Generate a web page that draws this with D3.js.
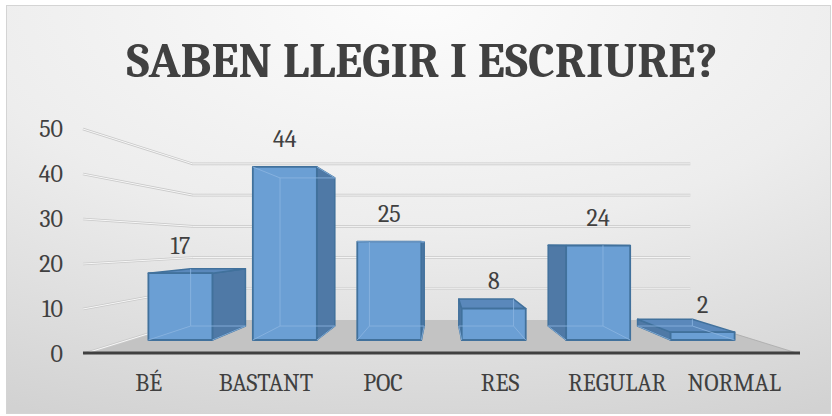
<!DOCTYPE html>
<html><head><meta charset="utf-8">
<script src="https://cdn.jsdelivr.net/npm/d3@7"></script>
<style>html,body{margin:0;padding:0;background:#fff;}svg{display:block;}</style>
</head><body>
<svg id="c" width="832" height="416"></svg>
<script>
const title = "SABEN LLEGIR I ESCRIURE?";
const categories = ["BÉ", "BASTANT", "POC", "RES", "REGULAR", "NORMAL"];
const values = [17, 44, 25, 8, 24, 2];
const yTicks = [0, 10, 20, 30, 40, 50];

const FONT = "'Cambria','Caladea','Liberation Serif'";
const svg = d3.select("#c");
const W = 832, H = 416;
const VP = [441.5, 243];
const sBack = 0.694, sBarF = 0.874, sBarB = 0.748;
const x = d3.scaleBand().domain(categories).range([83, 800]).paddingInner(0.387).paddingOuter(0.1935);
const y = d3.scaleLinear().domain([0, 50]).range([354, 129]);
const P = (X, Y, s) => [VP[0] + s * (X - VP[0]), VP[1] + s * (Y - VP[1])];

// background
const defs = svg.append("defs");
const rg = defs.append("radialGradient").attr("id", "bg").attr("cx", "50%").attr("cy", "0%").attr("r", "110%");
rg.append("stop").attr("offset", "0%").attr("stop-color", "#fcfcfc");
rg.append("stop").attr("offset", "50%").attr("stop-color", "#ededed");
rg.append("stop").attr("offset", "100%").attr("stop-color", "#d2d2d2");
svg.append("rect").attr("width", W).attr("height", H).attr("fill", "#fff");
svg.append("rect").attr("x", 6.5).attr("y", 5.5).attr("width", 824).attr("height", 408)
  .attr("fill", "url(#bg)").attr("stroke", "#d4d4d4").attr("stroke-width", 1);

// title
svg.append("text").attr("x", 422).attr("y", 77).attr("text-anchor", "middle")
  .style("font-family", FONT).style("font-weight", "bold").style("font-size", "48px").attr("fill", "#404040")
  .attr("textLength", 591).attr("lengthAdjust", "spacingAndGlyphs").text(title);

// floor
const [x0, x1] = x.range();
const floor = [P(x0, y(0), 1), P(x1, y(0), 1), P(x1, y(0), sBack), P(x0, y(0), sBack)];
svg.append("polygon").attr("points", floor.map(p => p.join(",")).join(" ")).attr("fill", "#c3c3c3");
svg.append("line").attr("x1", floor[1][0]).attr("y1", floor[1][1]).attr("x2", floor[2][0]).attr("y2", floor[2][1])
  .attr("stroke", "#aaaaaa").attr("stroke-width", 0.8);

// gridlines (left wall + back wall)
const grid = svg.append("g");
yTicks.forEach(v => {
  const a = P(x0, y(v), 1), b = P(x0, y(v), sBack), c = P(x1, y(v), sBack);
  const pts = (v === 0 ? [a, b] : [a, b, c]).map(p => p.join(",")).join(" ");
  grid.append("polyline").attr("points", pts).attr("fill", "none").attr("stroke", "#c9c9c9").attr("stroke-width", 2.6);
  grid.append("polyline").attr("points", pts).attr("fill", "none").attr("stroke", "#f7f7f7").attr("stroke-width", 1);
});

// front floor edge
svg.append("line").attr("x1", x0).attr("x2", x1).attr("y1", y(0) - 1).attr("y2", y(0) - 1)
  .attr("stroke", "#404040").attr("stroke-width", 3);

// y labels
svg.append("g").selectAll("text").data(yTicks).join("text")
  .attr("x", 63).attr("y", d => y(d)).attr("dy", "0.35em").attr("text-anchor", "end")
  .style("font-family", FONT).style("font-size", "24px").attr("fill", "#404040").text(d => d);

// bars
const bars = svg.append("g");
const poly = (pts) => pts.map(p => p.join(",")).join(" ");
categories.forEach((cat, i) => {
  const v = values[i];
  const X0 = x(cat), X1 = x(cat) + x.bandwidth();
  const Yt = y(v), Yb = y(0);
  const fTL = P(X0, Yt, sBarF), fTR = P(X1, Yt, sBarF), fBL = P(X0, Yb, sBarF), fBR = P(X1, Yb, sBarF);
  const bTL = P(X0, Yt, sBarB), bTR = P(X1, Yt, sBarB), bBL = P(X0, Yb, sBarB), bBR = P(X1, Yb, sBarB);
  const g = bars.append("g");
  const edge = "#41719c";
  if (X1 < VP[0]) {
    g.append("polygon").attr("points", poly([fTR, bTR, bBR, fBR])).attr("fill", "#4f79a6").attr("stroke", edge).attr("stroke-width", 1.5).attr("stroke-linejoin", "round");
  }
  if (X0 > VP[0]) {
    g.append("polygon").attr("points", poly([fTL, bTL, bBL, fBL])).attr("fill", "#4f79a6").attr("stroke", edge).attr("stroke-width", 1.5).attr("stroke-linejoin", "round");
  }
  if (Yt > VP[1]) {
    g.append("polygon").attr("points", poly([fTL, fTR, bTR, bTL])).attr("fill", "#5a88bb").attr("stroke", edge).attr("stroke-width", 1.5).attr("stroke-linejoin", "round");
  }
  g.append("polygon").attr("points", poly([fTL, fTR, fBR, fBL])).attr("fill", "#6b9fd4").attr("stroke", edge).attr("stroke-width", 1.8).attr("stroke-linejoin", "round");
  const hidden = g.append("g").attr("stroke", "#8db6e2").attr("stroke-width", 1).attr("opacity", 0.8).attr("fill", "none");
  const segs = [];
  if (!(X0 > VP[0])) segs.push([bTL, bBL]);
  if (!(X1 < VP[0])) segs.push([bTR, bBR]);
  if (!(Yt > VP[1])) segs.push([bTL, bTR]);
  segs.push([bBL, bBR]);
  segs.push([fBL, bBL]); segs.push([fBR, bBR]);
  if (!(Yt > VP[1])) { segs.push([fTL, bTL]); segs.push([fTR, bTR]); }
  segs.forEach(s => hidden.append("line").attr("x1", s[0][0]).attr("y1", s[0][1]).attr("x2", s[1][0]).attr("y2", s[1][1]));
  // data label
  const cx = (fTL[0] + fTR[0]) / 2;
  svg.append("text").attr("x", cx).attr("y", fTL[1] - 28).attr("dy", "0.35em").attr("text-anchor", "middle")
    .style("font-family", FONT).style("font-size", "24px").attr("fill", "#404040").text(v);
  // category label
  const lp = P(X0 + x.bandwidth() / 2, 0, 0.98);
  svg.append("text").attr("x", lp[0]).attr("y", 383).attr("dy", "0.35em").attr("text-anchor", "middle")
    .style("font-family", FONT).style("font-size", "24px").attr("fill", "#404040").text(cat);
});
</script>
</body></html>
